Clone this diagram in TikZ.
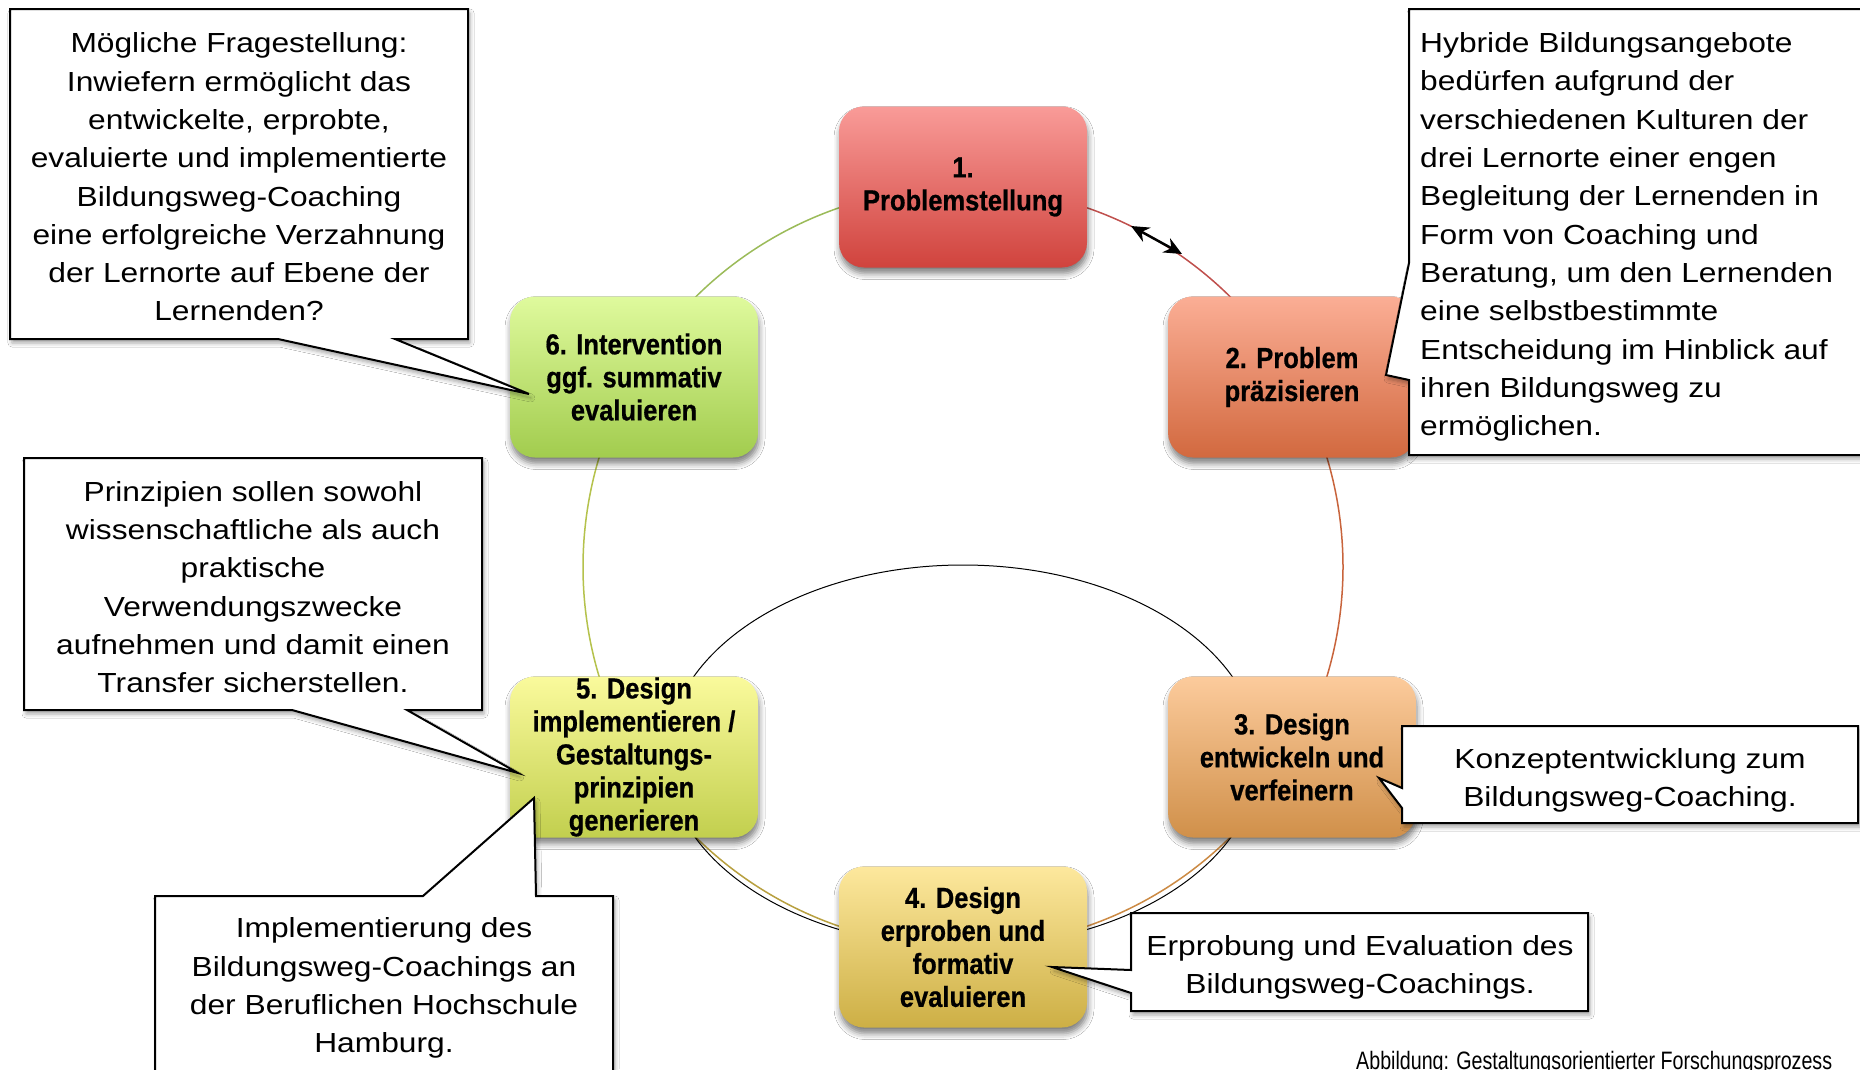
\documentclass[tikz,border=0pt]{standalone}
\usepackage{fontspec}
\setmainfont{Liberation Sans}
\newfontfamily\notefont[FakeStretch=1.15]{Liberation Sans}
\newfontfamily\stepfont[FakeStretch=0.88,FakeBold=0.6]{Liberation Sans Bold}
\newfontfamily\capfont[FakeStretch=0.78]{Liberation Sans}
\usetikzlibrary{arrows.meta,positioning,shadows.blur}

\tikzset{
   stepshadow/.style={blur shadow={shadow xshift=1pt, shadow yshift=-6pt, shadow opacity=50, shadow blur radius=6pt}},
   noteshadow/.style={blur shadow={shadow xshift=2pt, shadow yshift=-4pt, shadow opacity=35, shadow blur radius=4pt}}
}
\tikzstyle{stepbox} = [rounded corners=25pt, minimum width=248pt, minimum height=161pt, inner sep=0pt, align=center, font=\stepfont\fontsize{29}{33}\selectfont, stepshadow]
\tikzstyle{notebox} = [draw=black, line width=2pt, fill=white, line join=miter, noteshadow]
\tikzstyle{notetext} = [inner sep=0pt, font=\notefont\fontsize{27.6}{38.3}\selectfont]
\tikzstyle{twoway} = [line width=2.5pt, {Stealth[length=18pt,width=16pt]}-{Stealth[length=18pt,width=16pt]}]

\begin{document}
\begin{tikzpicture}[x=1pt,y=-1pt]
  % Colors
  \definecolor{onetop}{HTML}{F99B98}   \definecolor{onebot}{HTML}{D0433D}
  \definecolor{twotop}{HTML}{FBAE95}   \definecolor{twobot}{HTML}{D2693F}
  \definecolor{threetop}{HTML}{FCCB9C} \definecolor{threebot}{HTML}{D0904A}
  \definecolor{fourtop}{HTML}{FDE89D}  \definecolor{fourbot}{HTML}{CDAF45}
  \definecolor{fivetop}{HTML}{FAFA9C}  \definecolor{fivebot}{HTML}{C2CF4E}
  \definecolor{sixtop}{HTML}{DFFA9D}   \definecolor{sixbot}{HTML}{A2CC4E}
  \definecolor{ringone}{HTML}{C0504D}
  \definecolor{ringtwo}{HTML}{C8643C}
  \definecolor{ringthree}{HTML}{CC8A44}
  \definecolor{ringfour}{HTML}{B8A040}
  \definecolor{ringfive}{HTML}{B5C24C}
  \definecolor{ringsix}{HTML}{9BBB59}

  % Styles
  \tikzstyle{ringline}=[line width=1.5pt]

  \path[use as bounding box, fill=white] (0,0) rectangle (1860,1069);

  % The cycle
  \foreach \a/\b/\c in {-90/-30/ringone, -30/30/ringtwo, 30/90/ringthree,
                        90/150/ringfour, 150/210/ringfive, 210/270/ringsix}
    \draw[ringline,\c] ([shift={(963,567)}]\a:380) arc[start angle=\a, end angle=\b, radius=380];

  \draw[black, line width=1pt] (963,756) ellipse [x radius=296, y radius=191];

  \coordinate (arrA) at (1131,226);
  \coordinate (arrB) at (1182,254);
  \draw[twoway] (arrA) -- (arrB);

  % The steps
  \node[stepbox, top color=onetop, bottom color=onebot] (s1) at (963,187) {1.\\Problemstellung};
  \node[stepbox, top color=twotop, bottom color=twobot] (s2) at (1292,377) {2. Problem\\präzisieren};
  \node[stepbox, top color=threetop, bottom color=threebot] (s3) at (1292,757) {3. Design\\entwickeln und\\verfeinern};
  \node[stepbox, top color=fourtop, bottom color=fourbot] (s4) at (963,947) {4. Design\\erproben und\\formativ\\evaluieren};
  \node[stepbox, top color=fivetop, bottom color=fivebot] (s5) at (634,757) {5. Design\\implementieren /\\Gestaltungs-\\prinzipien\\generieren};
  \node[stepbox, top color=sixtop, bottom color=sixbot] (s6) at (634,377) {6. Intervention\\ggf. summativ\\evaluieren};

  % The notes
  \draw[notebox] (10,9) -- (468,9) -- (468,339) -- (395,339) -- (529,394) -- (278,339) -- (10,339) -- cycle;
  \node[notetext, align=center] (question) at (239,177)
    {Mögliche Fragestellung:\\Inwiefern ermöglicht das\\entwickelte, erprobte,\\evaluierte und implementierte\\Bildungsweg-Coaching\\eine erfolgreiche Verzahnung\\der Lernorte auf Ebene der\\Lernenden?};

  \draw[notebox] (1409,9) -- (1880,9) -- (1880,455) -- (1409,455) -- (1409,380) -- (1386,375) -- (1409,263) -- cycle;
  \node[notetext, align=left, anchor=west] (hybrid) at (1420,237)
    {Hybride Bildungsangebote\\bedürfen aufgrund der\\verschiedenen Kulturen der\\drei Lernorte einer engen\\Begleitung der Lernenden in\\Form von Coaching und\\Beratung, um den Lernenden\\eine selbstbestimmte\\Entscheidung im Hinblick auf\\ihren Bildungsweg zu\\ermöglichen.};

  \draw[notebox] (24,458) -- (482,458) -- (482,710) -- (407,710) -- (518,773) -- (292,710) -- (24,710) -- cycle;
  \node[notetext, align=center] (principles) at (253,587)
    {Prinzipien sollen sowohl\\wissenschaftliche als auch\\praktische\\Verwendungszwecke\\aufnehmen und damit einen\\Transfer sicherstellen.};

  \draw[notebox] (155,896) -- (423,896) -- (534,798) -- (536,896) -- (613,896) -- (613,1090) -- (155,1090) -- cycle;
  \node[notetext, align=center] (hamburg) at (384,988)
    {Implementierung des\\Bildungsweg-Coachings an\\der Beruflichen Hochschule\\Hamburg.};

  \draw[notebox] (1402,726) -- (1858,726) -- (1858,823) -- (1402,823) -- (1402,808) -- (1379,778) -- (1402,788) -- cycle;
  \node[notetext, align=center] (concept) at (1630,780)
    {Konzeptentwicklung zum\\Bildungsweg-Coaching.};

  \draw[notebox] (1131,913) -- (1588,913) -- (1588,1011) -- (1131,1011) -- (1131,993) -- (1052,967) -- (1131,970) -- cycle;
  \node[notetext, align=center] (trial) at (1360,967)
    {Erprobung und Evaluation des\\Bildungsweg-Coachings.};

  \node[anchor=base west, inner sep=0pt, font=\capfont\fontsize{25.2}{30}\selectfont] (caption) at (1356,1069)
    {Abbildung: Gestaltungsorientierter Forschungsprozess};
\end{tikzpicture}
\end{document}
